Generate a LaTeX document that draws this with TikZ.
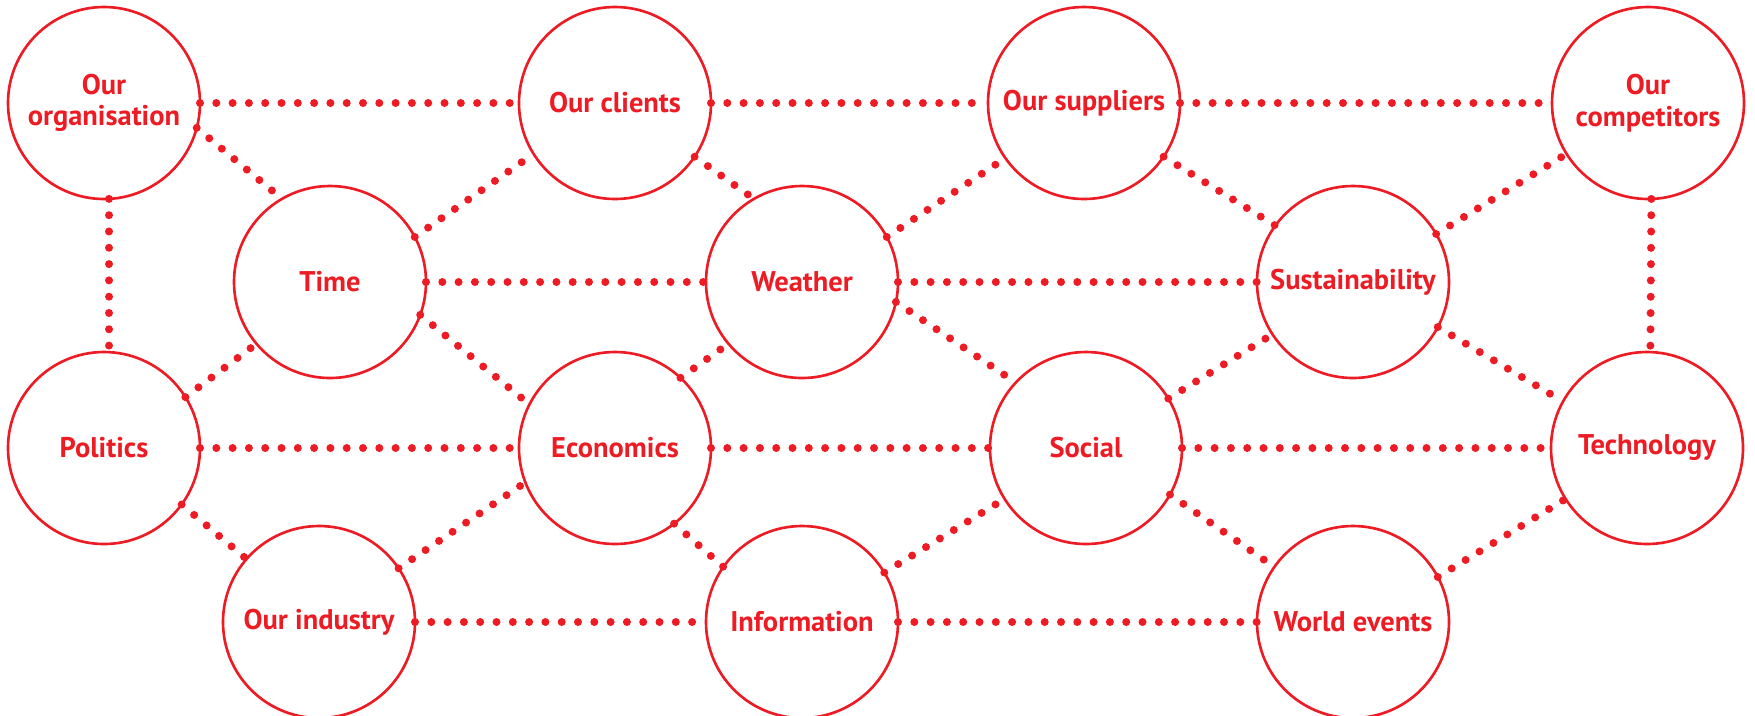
\documentclass[tikz,border=0pt]{standalone}
\usepackage{fontspec}
\setmainfont{PT Sans}
\usetikzlibrary{positioning}

\begin{document}
\begin{tikzpicture}[on grid, align=center,
        font=\fontsize{8.1}{9}\selectfont\bfseries,
        topic/.style={circle, draw=signred, line width=0.75pt, text=signred, minimum size=19.2mm, inner sep=0pt, outer sep=0pt},
        link/.style={draw=signred, line width=0.8mm, line cap=round, dash pattern=on 0pt off 1.63mm}]
        % Define colors
        \definecolor{signred}{RGB}{237,28,36}

        \useasboundingbox (0,0) rectangle (175.5mm,-71.5mm);

        % Nodes
        \node[topic] (org) at (10.4mm,-10.3mm) {Our\\organisation};
        \node[topic, right=51.1mm of org] (clients) {Our clients};
        \node[topic, right=46.9mm of clients] (suppliers) {Our suppliers};
        \node[topic, right=56.4mm of suppliers] (competitors) {Our\\competitors};

        \node[topic, below right=17.9mm and 22.6mm of org] (time) {Time};
        \node[topic, right=47.2mm of time] (weather) {Weather};
        \node[topic, right=55.1mm of weather] (sustain) {Sustainability};

        \node[topic, below=34.5mm of org] (politics) {Politics};
        \node[topic, right=51.1mm of politics] (econ) {Economics};
        \node[topic, right=47.1mm of econ] (social) {Social};
        \node[topic, right=56.1mm of social] (tech) {Technology};

        \node[topic, below right=17.4mm and 21.5mm of politics] (industry) {Our industry};
        \node[topic, right=48.3mm of industry] (info) {Information};
        \node[topic, right=55.1mm of info] (world) {World events};

        % Edges
        \foreach \a/\b in {org/clients, clients/suppliers, suppliers/competitors,
                time/weather, weather/sustain,
                politics/econ, econ/social, social/tech,
                industry/info, info/world,
                org.-87/politics.87, competitors.-88/tech.88} {
            \draw[link] (\a) -- (\b);
        }
        \foreach \a/\b in {org.-15/time.120, time.28/clients.212, clients.-34/weather.120,
                weather.28/suppliers.215, suppliers.-34/sustain.144, sustain.30/competitors.212,
                politics.32/time.220, time.-20/econ.153, econ.47/weather.220,
                weather.-12/social.137, social.31/sustain.213, sustain.-28/tech.151,
                politics.-36/industry.139, industry.34/econ.201, econ.-52/info.145,
                info.31/social.212, social.-29/world.145, world.28/tech.212} {
            \draw[link] (\a) -- (\b);  % slanted links
        }
    \end{tikzpicture}
\end{document}
